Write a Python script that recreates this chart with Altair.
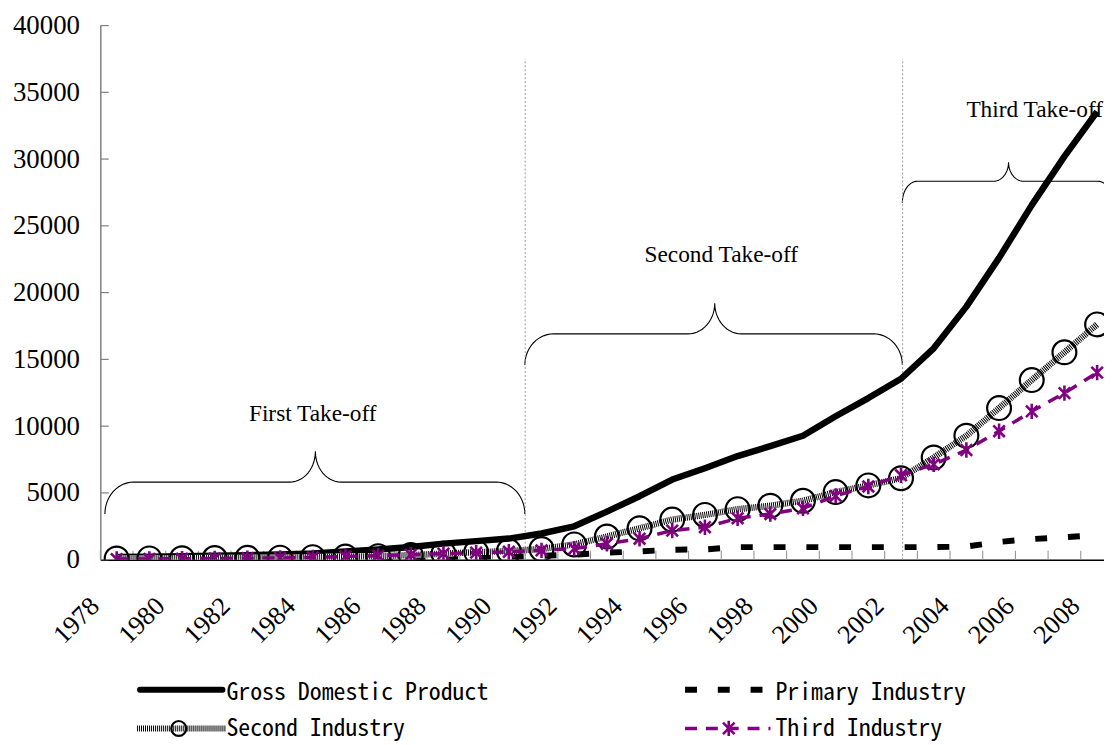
import math
import altair as alt
import pandas as pd

# ---------------- data ----------------
years = list(range(1978, 2009))
gdp = [200, 220, 260, 300, 340, 380, 470, 620, 760, 950,
       1200, 1390, 1580, 1960, 2500, 3600, 4750, 6000, 6850, 7760,
       8500, 9280, 10740, 12100, 13550, 15830, 18950, 22600, 26550, 30200,
       33550]
primary = [55, 65, 80, 85, 95, 95, 105, 105, 115, 135,
           200, 220, 240, 285, 370, 520, 620, 740, 770, 940,
           940, 940, 940, 940, 940, 940, 980, 1330, 1540, 1680,
           1850]
second = [90, 95, 105, 120, 135, 150, 185, 230, 260, 340,
          450, 565, 640, 800, 1140, 1730, 2350, 3000, 3350, 3780,
          4040, 4410, 5060, 5560, 6100, 7650, 9280, 11350, 13450, 15530,
          17620]
third = [45, 52, 68, 90, 110, 130, 170, 245, 300, 375,
         450, 530, 590, 700, 830, 1190, 1570, 2180, 2430, 3100,
         3420, 3840, 4780, 5480, 6320, 7140, 8210, 9620, 11110, 12470,
         14010]

y_tick_values = [0, 5000, 10000, 15000, 20000, 25000, 30000, 35000, 40000]
x_boundaries = [1977.5 + k for k in range(31)]          # category borders

series_names = ["Gross Domestic Product", "Primary Industry",
                "Second Industry", "Third Industry"]

# take-off annotations (data units)
takeoff_labels = ["First Take-off", "Second Take-off", "Third Take-off"]
takeoff_x = [1984.0, 1996.5, 2004.0]
takeoff_y = [10935, 22840, 33700]
takeoff_align = ["center", "center", "left"]

divider_x = [1990.5, 2002.05]
divider_top = 37500

# braces: start, end, apex-x, end level, flat level, apex level, end radius, apex radius
braces = [
    (1977.64, 1990.49, 1984.08, 3420, 5810, 8110, 0.88, 0.78),
    (1990.49, 2002.04, 1996.30, 14580, 16910, 19200, 0.88, 0.82),
    (2002.04, 2008.48, 2005.29, 26730, 28340, 29760, 0.46, 0.46),
]

# ---------------- tables ----------------
df = pd.DataFrame({"year": years, "gdp": gdp, "primary": primary,
                   "second": second, "third": third})


def brace_rows(bid, x0, x1, xa, ye, yf, ya, re_, ra, n=14):
    rows = []
    q = math.pi / 2
    for i in range(n + 1):
        t = q * i / n
        rows.append((x0 + re_ * (1 - math.cos(t)), ye + (yf - ye) * math.sin(t)))
    for i in range(n + 1):
        t = q * i / n
        rows.append((xa - ra + ra * math.sin(t), yf + (ya - yf) * (1 - math.cos(t))))
    for i in range(n, -1, -1):
        t = q * i / n
        rows.append((xa + ra - ra * math.sin(t), yf + (ya - yf) * (1 - math.cos(t))))
    for i in range(n, -1, -1):
        t = q * i / n
        rows.append((x1 - re_ * (1 - math.cos(t)), ye + (yf - ye) * math.sin(t)))
    return [{"id": bid, "i": k, "bx": p[0], "by": p[1]} for k, p in enumerate(rows)]


brace_df = pd.DataFrame([r for b, spec in enumerate(braces) for r in brace_rows(b, *spec)])
label_df = pd.DataFrame({"t": takeoff_labels, "x": takeoff_x, "y": takeoff_y, "a": takeoff_align})
div_df = pd.DataFrame({"x": divider_x, "y0": [0, 0], "y1": [divider_top, divider_top]})
xt_df = pd.DataFrame({"b": x_boundaries})
yt_df = pd.DataFrame({"v": y_tick_values})
one = pd.DataFrame({"k": [0]})

# ---------------- scales / axes ----------------
PLOT_W, PLOT_H = 1011, 538
xscale = alt.Scale(domain=[1977.5, 1977.5 + PLOT_W / 32.92], nice=False, zero=False)
yscale = alt.Scale(domain=[0, 40000], nice=False, zero=True)

serif = "Liberation Serif"
mono = "Noto Sans Mono CJK SC, Noto Sans CJK SC, DejaVu Sans Mono"

xaxis = alt.Axis(values=x_boundaries, title=None, grid=False, ticks=False, tickSize=0,
                 labelExpr="(datum.value + 0.5) % 2 == 0 ? toString(datum.value + 0.5) : ''",
                 labelAngle=-45, labelAlign="right", labelBaseline="alphabetic",
                 labelPadding=48, labelFont=serif, labelFontSize=26.5, labelColor="black",
                 labelFlush=False, labelOverlap=False, labelBound=False,
                 domainColor="black", domainWidth=1.5)
yaxis = alt.Axis(values=y_tick_values, title=None, grid=False, ticks=False, tickSize=0,
                 format="d", labelPadding=21, labelFont=serif, labelFontSize=27,
                 labelColor="black", labelFlush=False, labelOverlap=False,
                 domainColor="#808080", domainWidth=1.5)


def X(field):
    return alt.X(field, type="quantitative", scale=xscale, axis=xaxis)


def Y(field):
    return alt.Y(field, type="quantitative", scale=yscale, axis=yaxis)


base = alt.Chart(df)

# annotations
brace_layer = alt.Chart(brace_df).mark_line(color="black", strokeWidth=1.1, clip=True).encode(
    x=X("bx"), y=Y("by"), detail="id:N", order="i:Q")
div_layer = alt.Chart(div_df).mark_rule(color="#9a9a9a", strokeWidth=1, strokeDash=[2, 2]).encode(
    x=X("x"), y=Y("y0"), y2="y1")
text_c = alt.Chart(label_df).transform_filter("datum.a == 'center'").mark_text(
    font=serif, fontSize=23.5, color="black", baseline="middle", align="center").encode(
    x=X("x"), y=Y("y"), text="t:N")
text_l = alt.Chart(label_df).transform_filter("datum.a == 'left'").mark_text(
    font=serif, fontSize=23.5, color="black", baseline="middle", align="left").encode(
    x=X("x"), y=Y("y"), text="t:N")
xtick_layer = alt.Chart(xt_df).mark_rule(color="#8c8c8c", strokeWidth=1).encode(
    x=X("b"), y=alt.value(PLOT_H), y2=alt.value(PLOT_H - 9))
ytick_layer = alt.Chart(yt_df).mark_rule(color="#808080", strokeWidth=1.2).encode(
    y=Y("v"), x=alt.value(0), x2=alt.value(8.5))

# series
gdp_line = base.mark_line(color="black", strokeWidth=6.5, strokeJoin="round", clip=True).encode(
    x=X("year"), y=Y("gdp"))
prim_line = base.mark_line(color="black", strokeWidth=6, strokeDash=[12, 21], strokeCap="butt",
                           strokeDashOffset=-2, clip=True).encode(x=X("year"), y=Y("primary"))
sec_base = base.mark_line(color="#ffffff", strokeWidth=6.5, clip=True).encode(x=X("year"), y=Y("second"))
sec_pat = base.mark_line(color="#000000", strokeWidth=6.5, strokeDash=[1, 1], clip=True).encode(
    x=X("year"), y=Y("second"))
sec_pts = base.mark_point(shape="circle", filled=False, size=576, stroke="black", strokeWidth=2.2,
                          opacity=1, clip=True).encode(x=X("year"), y=Y("second"))
ast = "M0,-1L0,1M-0.75,-0.75L0.75,0.75M-0.75,0.75L0.75,-0.75"
third_line = base.mark_line(color="#800080", strokeWidth=3.5, strokeDash=[12, 9], clip=True).encode(
    x=X("year"), y=Y("third"))
third_pts = base.mark_point(shape=ast, filled=False, size=240, stroke="#800080", strokeWidth=2.6,
                            opacity=1, clip=True).encode(x=X("year"), y=Y("third"))

# legend (drawn)
LINE1, LINE2 = 669, 708
TEXT1, TEXT2 = 679, 716
C1A, C1B, C1T = 37, 126, 127
C2A, C2B, C2T = 589, 675, 680
lg = alt.Chart(one)
leg_layers = [
    lg.mark_rule(color="black", strokeWidth=6, strokeCap="round").encode(
        x=alt.value(C1A + 3), x2=alt.value(C1B - 3), y=alt.value(LINE1)),
    lg.mark_rule(color="black", strokeWidth=6, strokeDash=[12, 21]).encode(
        x=alt.value(C2A), x2=alt.value(C2B), y=alt.value(LINE1)),
    lg.mark_rule(color="white", strokeWidth=6).encode(
        x=alt.value(C1A), x2=alt.value(C1B), y=alt.value(LINE2)),
    lg.mark_rule(color="black", strokeWidth=6, strokeDash=[1, 1]).encode(
        x=alt.value(C1A), x2=alt.value(C1B), y=alt.value(LINE2)),
    lg.mark_point(shape="circle", filled=False, size=225, stroke="black",
                  strokeWidth=2.2, opacity=1).encode(
        x=alt.value(79), y=alt.value(LINE2)),
    lg.mark_rule(color="#800080", strokeWidth=3.5, strokeDash=[12, 9]).encode(
        x=alt.value(C2A), x2=alt.value(C2B), y=alt.value(LINE2)),
    lg.mark_point(shape=ast, filled=False, size=240, stroke="#800080", strokeWidth=2.6,
                  opacity=1).encode(x=alt.value((C2A + C2B) / 2 + 1), y=alt.value(LINE2)),
]
for (cx, cy), name in zip([(C1T, TEXT1), (C2T, TEXT1), (C1T, TEXT2), (C2T, TEXT2)],
                          series_names):
    leg_layers.append(lg.mark_text(text=name, font=mono, fontSize=24, color="black",
                                   align="left", baseline="alphabetic").encode(
        x=alt.value(cx), y=alt.value(cy)))

chart = alt.layer(
    brace_layer, div_layer, text_c, text_l, xtick_layer, ytick_layer,
    gdp_line, prim_line, sec_base, sec_pat, sec_pts, third_line, third_pts,
    *leg_layers
).properties(
    width=PLOT_W, height=PLOT_H,
    padding={"left": 93, "top": 15, "right": 0, "bottom": 184},
    autosize=alt.AutoSizeParams(type="none"),
    background="white",
).configure_view(stroke=None).configure_axis(
    labelFont=serif, labelColor="black"
)

chart.save("out.html", embed_options={"renderer": "svg", "actions": False})
